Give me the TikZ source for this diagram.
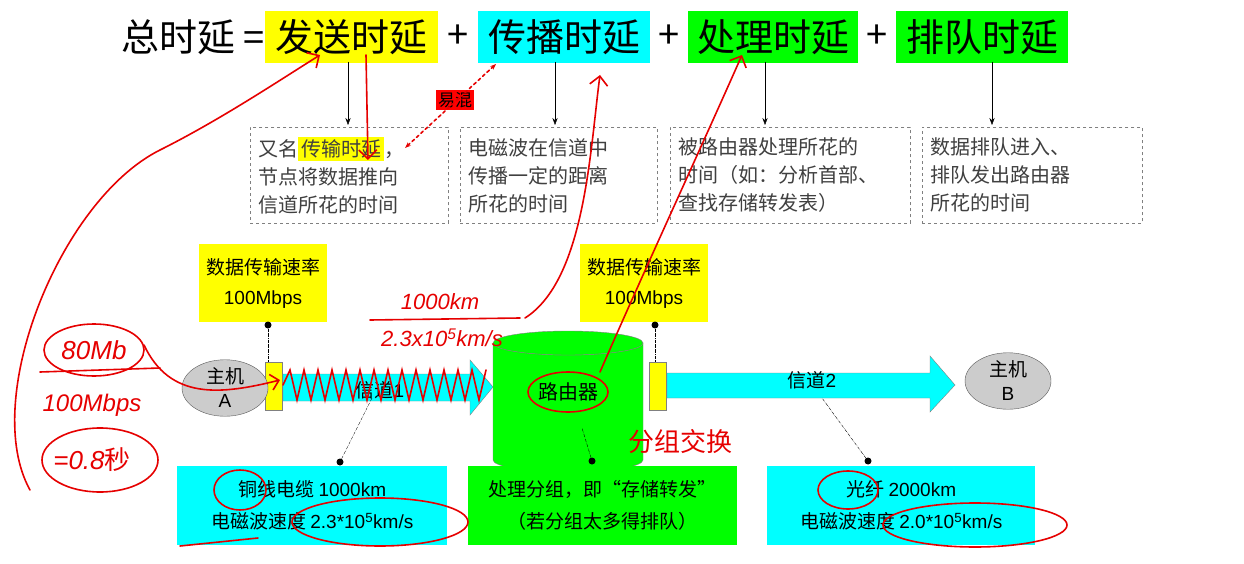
\documentclass[tikz,border=0pt]{standalone}
\usepackage{fontspec}
\setmainfont{Noto Sans CJK SC}
\newfontfamily\lat{Liberation Sans}
\newfontfamily\cjk{Noto Sans CJK SC}
\usetikzlibrary{shapes.geometric,arrows.meta}
\definecolor{cy}{RGB}{0,255,255}
\definecolor{gr}{RGB}{0,255,0}
\definecolor{ye}{RGB}{255,255,0}
\definecolor{rd}{RGB}{230,0,0}
\begin{document}
\begin{tikzpicture}[x=1pt,y=-1pt,
 hl/.style={inner sep=0pt,minimum height=52pt,font=\fontsize{38}{40}\selectfont},
 dbox/.style={draw=gray,dashed,thick,minimum height=96pt,text width=#1,align=left,font=\fontsize{20}{28}\selectfont,text=black!75,inner sep=8pt,anchor=north west},
 rate/.style={fill=ye,minimum width=128pt,minimum height=78pt,align=center,font=\fontsize{19}{30}\selectfont,inner sep=0pt},
 info/.style={minimum height=79pt,align=center,font=\fontsize{19}{32}\selectfont,inner sep=0pt,anchor=north west},
 port/.style={fill=ye,draw=gray,minimum width=17pt,minimum height=48pt,inner sep=0pt},
 host/.style={ellipse,fill=gray!40,draw=gray!70!black,minimum width=86pt,minimum height=56pt,align=center,font=\fontsize{19}{24}\selectfont,inner sep=0pt},
 dot/.style={circle,fill=black,inner sep=0pt,minimum size=7pt},
 lead/.style={densely dashdotted,thin},
 red/.style={draw=rd,line width=1.6pt,line cap=round},
 redt/.style={text=rd,font=\lat\itshape\fontsize{26}{26}\selectfont}]
\useasboundingbox (0,0) rectangle (1244,564);
\fill[white] (0,0) rectangle (1244,564);
% title
\node[hl,anchor=east] (tt) at (265,37) {总时延 =};
\node[hl,fill=ye,minimum width=173pt,anchor=west] (fs) at (265,37) {发送时延};
\node[hl] (p1) at (458,37) {+};
\node[hl,fill=cy,minimum width=172pt,anchor=west] (cb) at (478,37) {传播时延};
\node[hl] (p2) at (669,37) {+};
\node[hl,fill=gr,minimum width=170pt,anchor=west] (cl) at (688,37) {处理时延};
\node[hl] (p3) at (877,37) {+};
\node[hl,fill=gr,minimum width=172pt,anchor=west] (pd) at (896,37) {排队时延};
% dashed boxes
\node[dbox=182pt] (d1) at (250,127) {又名\colorbox{ye}{\rule{0pt}{0pt}传输时延}，\\节点将数据推向\\信道所花的时间};
\node[dbox=181pt] (d2) at (460,127) {电磁波在信道中\\传播一定的距离\\所花的时间};
\node[dbox=224pt] (d3) at (670,127) {被路由器处理所花的\\时间（如：分析首部、\\查找存储转发表）};
\node[dbox=204pt] (d4) at (922,127) {数据排队进入、\\排队发出路由器\\所花的时间};
\foreach \x in {348,555,765,992}
  \draw[-{Stealth[length=7pt]}] (\x,62) -- (\x,125);
% 易混
\node[fill=red,inner sep=2pt,font=\fontsize{17}{18}\selectfont] (yh) at (455,100) {易混};
\coordinate (ya) at (405,148); \coordinate (yb) at (496,64);
\draw[red,dashed,{Stealth[length=6pt]}-{Stealth[length=6pt]}] (ya) -- (yb);
% rate boxes
\node[rate] (r1) at (263,283) {数据传输速率\\{\lat 100Mbps}};
\node[rate] (r2) at (644,283) {数据传输速率\\{\lat 100Mbps}};
% channels
\fill[cy,draw=gray] (283,374) -- (470,374) -- (470,360) -- (493,387) -- (470,415) -- (470,401) -- (283,401) -- cycle;
\fill[cy,draw=gray] (667,373) -- (930,373) -- (930,356) -- (955,385) -- (930,412) -- (930,398) -- (667,398) -- cycle;
\node[font=\fontsize{19}{20}\selectfont] (l1) at (380,390) {信道{\lat 1}};
\node[font=\fontsize{19}{20}\selectfont] (l2) at (812,380) {信道{\lat 2}};
% router
\fill[gr,draw=gray] (493,343) -- (493,460) arc[start angle=180,end angle=360,x radius=75pt,y radius=12pt] -- (643,343) arc[start angle=0,end angle=180,x radius=75pt,y radius=-12pt];
\draw[gray,fill=gr] (568,343) ellipse[x radius=75pt,y radius=12pt];
\node[font=\fontsize{20}{20}\selectfont] (rt) at (568,392) {路由器};
% ports and hosts
\node[port] (pa) at (274,386) {};
\node[port] (pb) at (658,386) {};
\node[host] (ha) at (225,388) {主机\\{\lat A}};
\node[host] (hb) at (1008,381) {主机\\{\lat B}};
\node[dot] (t1) at (268,325) {};
\node[dot] (t2) at (655,325) {};
\draw[lead] (t1) -- (pa.north -| t1);
\draw[lead] (t2) -- (pb.north -| t2);
% info boxes
\node[info,fill=cy,minimum width=270pt] (i1) at (177,466) {铜线电缆 {\lat 1000km}\\电磁波速度 {\lat 2.3*10\textsuperscript{5}km/s}};
\node[info,fill=gr,minimum width=269pt] (i2) at (468,466) {处理分组，即“存储转发”\\（若分组太多得排队）};
\node[info,fill=cy,minimum width=268pt] (i3) at (767,466) {光纤 {\lat 2000km}\\电磁波速度 {\lat 2.0*10\textsuperscript{5}km/s}};
\node[dot] (b1) at (340,462) {};
\node[dot] (b2) at (592,461) {};
\node[dot] (b3) at (868,461) {};
\draw[lead] (b1) -- (372,398);
\draw[lead] (b2) -- (582,428);
\draw[lead] (b3) -- (822,398);
% red annotations
\node[redt] (h1) at (94,350) {80Mb};
\node[redt,font=\lat\itshape\fontsize{24}{24}\selectfont] (h2) at (92,405) {100Mbps};
\node[redt] (h3) at (92,460) {=0.8{\cjk 秒}};
\node[redt,font=\lat\itshape\fontsize{22}{22}\selectfont] (h4) at (440,302) {1000km};
\node[redt,font=\lat\itshape\fontsize{22}{22}\selectfont] (h5) at (442,338) {2.3x10\textsuperscript{5}km/s};
\node[redt,font=\cjk\fontsize{26}{26}\selectfont] (h6) at (680,442) {分组交换};
\draw[red] (370,320) -- (520,318);
\draw[red] (40,372) -- (160,368);
\draw[red] (94,350) ellipse[x radius=50pt,y radius=26pt];
\draw[red] (100,460) ellipse[x radius=58pt,y radius=32pt];
\draw[red] (568,392) ellipse[x radius=40pt,y radius=20pt];
\draw[red] (240,490) ellipse[x radius=26pt,y radius=20pt];
\draw[red] (380,522) ellipse[x radius=88pt,y radius=24pt];
\draw[red] (848,490) ellipse[x radius=30pt,y radius=19pt];
\draw[red] (975,525) ellipse[x radius=92pt,y radius=22pt];
\draw[red] (180,546) -- (258,538);
\draw[red,-{Straight Barb[length=8pt]}] (144,345) .. controls (170,400) and (220,395) .. (280,380);
\draw[red] (283,385) -- (290,370) -- (297,400) -- (304,370) -- (311,400) -- (318,370) -- (325,400) -- (332,370) -- (339,400) -- (346,370) -- (353,400) -- (360,370) -- (367,400) -- (374,370) -- (381,400) -- (388,370) -- (395,400) -- (402,370) -- (409,400) -- (416,370) -- (423,400) -- (430,370) -- (437,400) -- (444,370) -- (451,400) -- (458,370) -- (465,400) -- (472,370) -- (479,400) -- (486,370);
\draw[red,-{Straight Barb[length=9pt]}] (30,490) .. controls (-20,400) and (60,200) .. (160,150) .. controls (220,120) and (280,80) .. (320,55);
\draw[red,-{Straight Barb[length=9pt]}] (366,55) -- (368,160);
\draw[red,-{Straight Barb[length=9pt]}] (525,318) .. controls (585,280) and (590,150) .. (600,75);
\draw[red,-{Straight Barb[length=9pt]}] (600,372) .. controls (640,280) and (700,150) .. (742,55);
\end{tikzpicture}
\end{document}
